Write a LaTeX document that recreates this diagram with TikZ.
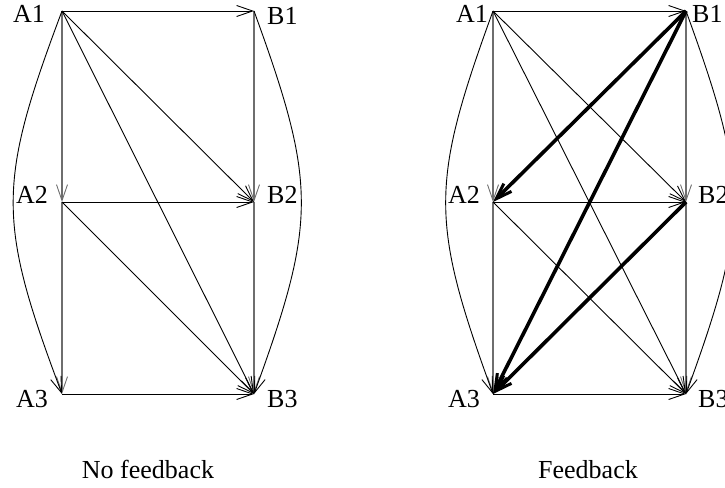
\documentclass[tikz,border=0pt]{standalone}
\usepackage{fontspec}
\setmainfont{Liberation Serif}
\usetikzlibrary{arrows.meta}
\definecolor{vgray}{RGB}{110,110,110}
\tikzset{
  edge/.style={line width=0.9pt, -{Straight Barb[length=16pt,width=11pt,line width=0.9pt]}},
  vedge/.style={edge, draw=vgray, line width=1.3pt},
  thickedge/.style={line width=3.6pt, -{Straight Barb[length=16pt,width=11pt,line width=3pt]}},
  lblL/.style={anchor=base east, inner sep=0pt, font=\fontsize{26}{30}\selectfont},
  lblR/.style={anchor=base west, inner sep=0pt, font=\fontsize{26}{30}\selectfont},
  captext/.style={anchor=base, inner sep=0pt, font=\fontsize{26}{30}\selectfont}
}
\begin{document}
\begin{tikzpicture}[x=1pt,y=-1pt]
\path[use as bounding box] (0,0) rectangle (725,487);
\clip (0,0) rectangle (725,487);
% ---------- left diagram ----------
\coordinate (la1) at (62,11);
\coordinate (lb1) at (254,11);
\coordinate (la2) at (62,202);
\coordinate (lb2) at (254,202);
\coordinate (la3) at (62,394);
\coordinate (lb3) at (254,394);
\node[lblL] (tla1) at (45,23) {A1};
\node[lblR] (tlb1) at (267,25) {B1};
\node[lblL] (tla2) at (48,203) {A2};
\node[lblR] (tlb2) at (267,203) {B2};
\node[lblL] (tla3) at (48,407) {A3};
\node[lblR] (tlb3) at (267,407) {B3};
\draw[vedge] (la1) -- (la2);
\draw[vedge] (la2) -- (la3);
\draw[vedge] (lb1) -- (lb2);
\draw[vedge] (lb2) -- (lb3);
\draw[edge] (la1) -- (lb1);
\draw[edge] (la2) -- (lb2);
\draw[edge] (la3) -- (lb3);
\draw[edge] (la1) -- (lb2);
\draw[edge] (la1) -- (lb3);
\draw[edge] (la2) -- (lb3);
\draw[edge] (la1) .. controls (-3,184) and (-3,221) .. (la3);
\draw[edge] (lb1) .. controls (317,184) and (317,221) .. (lb3);
\node[captext] (capl) at (148,478) {No feedback};
% ---------- right diagram ----------
\coordinate (ra1) at (493,11);
\coordinate (rb1) at (686,11);
\coordinate (ra2) at (493,202);
\coordinate (rb2) at (686,202);
\coordinate (ra3) at (493,394);
\coordinate (rb3) at (686,394);
\node[lblL] (tra1) at (488,23) {A1};
\node[lblR] (trb1) at (692,23) {B1};
\node[lblL] (tra2) at (480,203) {A2};
\node[lblR] (trb2) at (698,203) {B2};
\node[lblL] (tra3) at (480,407) {A3};
\node[lblR] (trb3) at (698,407) {B3};
\draw[vedge] (ra1) -- (ra2);
\draw[vedge] (ra2) -- (ra3);
\draw[vedge] (rb1) -- (rb2);
\draw[vedge] (rb2) -- (rb3);
\draw[edge] (ra1) -- (rb1);
\draw[edge] (ra2) -- (rb2);
\draw[edge] (ra3) -- (rb3);
\draw[edge] (ra1) -- (rb2);
\draw[edge] (ra1) -- (rb3);
\draw[edge] (ra2) -- (rb3);
\draw[edge] (ra1) .. controls (430,184) and (430,221) .. (ra3);
\draw[edge] (rb1) .. controls (749,184) and (749,221) .. (rb3);
\draw[thickedge] (rb1) -- (ra2);
\draw[thickedge] (rb1) -- (ra3);
\draw[thickedge] (rb2) -- (ra3);
\node[captext] (capr) at (588,478) {Feedback};
\end{tikzpicture}
\end{document}
